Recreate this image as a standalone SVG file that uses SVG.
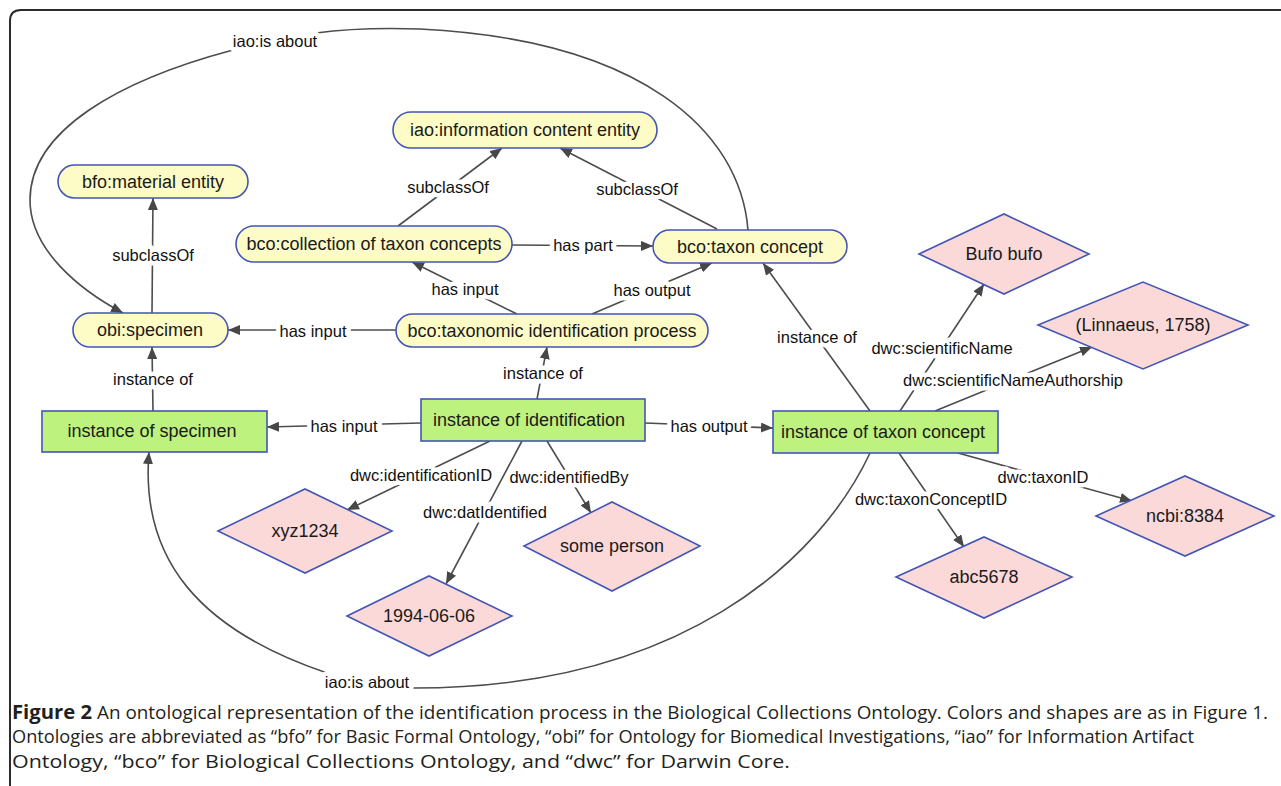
<svg xmlns="http://www.w3.org/2000/svg" width="1281" height="786" viewBox="0 0 1281 786">
<defs>
<marker id="arr" markerUnits="userSpaceOnUse" viewBox="0 0 12 10" refX="12" refY="5" markerWidth="12" markerHeight="10" orient="auto">
<path d="M0,0 L12,5 L0,10 z" fill="#474747"/>
</marker>
<style>
.cls rect{fill:#fdfbc6;stroke:#4356b4;stroke-width:1.6}
.ins rect{fill:#bef27e;stroke:#4356b4;stroke-width:1.6}
.lit polygon{fill:#fbd9d8;stroke:#4356b4;stroke-width:1.6}
.nt{font-family:"Liberation Sans",Arial,sans-serif;font-size:18px;fill:#1a1a1a;text-anchor:middle;dominant-baseline:central}
.e{fill:none;stroke:#4d4d4d;stroke-width:1.6}
.ea{fill:none;stroke:#4d4d4d;stroke-width:1.6;marker-end:url(#arr)}
.lb{font-family:"Liberation Sans",Arial,sans-serif;font-size:16.5px;fill:#111;text-anchor:middle;dominant-baseline:central;stroke:#fff;stroke-width:9px;paint-order:stroke;stroke-linejoin:round}
.cap{font-family:"Open Sans","Liberation Sans",sans-serif;font-size:19px;fill:#231f20}
</style>
</defs>
<rect width="1281" height="786" fill="#fff"/>
<path d="M10 786 L10 21 Q10 10 21 10 L1281 10" fill="none" stroke="#2b2b2b" stroke-width="2"/>

<g id="connectors">
<line class="ea" x1="398" y1="226" x2="502" y2="148"/>
<line class="ea" x1="717" y1="229" x2="560" y2="148"/>
<line class="ea" x1="512" y1="245" x2="653" y2="246"/>
<line class="ea" x1="517" y1="314" x2="412" y2="262"/>
<line class="ea" x1="592" y1="314" x2="712" y2="263"/>
<line class="ea" x1="396" y1="330" x2="228" y2="330"/>
<line class="ea" x1="152" y1="313" x2="153" y2="198"/>
<line class="ea" x1="153" y1="411" x2="152" y2="347"/>
<line class="ea" x1="537" y1="399" x2="547" y2="347"/>
<line class="ea" x1="421" y1="423" x2="267" y2="427"/>
<line class="ea" x1="645" y1="423" x2="773" y2="428"/>
<line class="ea" x1="870" y1="411" x2="763" y2="263"/>
<line class="ea" x1="900" y1="411" x2="984" y2="284"/>
<line class="ea" x1="935" y1="411" x2="1092" y2="347"/>
<line class="ea" x1="958" y1="453" x2="1132" y2="501"/>
<line class="ea" x1="899" y1="453" x2="964" y2="547"/>
<line class="ea" x1="490" y1="441" x2="347" y2="510"/>
<line class="ea" x1="522" y1="441" x2="446" y2="584"/>
<line class="ea" x1="547" y1="441" x2="591" y2="513"/>
<path class="e" d="M748 230 C740 130 640 40 420 29 Q360 27 316 33"/>
<path class="ea" d="M233 50 C120 80 30 130 30 200 C30 250 80 290 123 313"/>
<path class="e" d="M870 453 C820 560 680 690 408 688"/>
<path class="ea" d="M327 673 C200 630 140 560 149 452"/>

<text class="lb" x="448" y="187">subclassOf</text>
<text class="lb" x="637" y="189">subclassOf</text>
<text class="lb" x="583" y="245">has part</text>
<text class="lb" x="465" y="289">has input</text>
<text class="lb" x="652" y="290">has output</text>
<text class="lb" x="313" y="331">has input</text>
<text class="lb" x="153" y="255">subclassOf</text>
<text class="lb" x="153" y="379">instance of</text>
<text class="lb" x="543" y="373">instance of</text>
<text class="lb" x="344" y="426">has input</text>
<text class="lb" x="709" y="426">has output</text>
<text class="lb" x="817" y="337">instance of</text>
<text class="lb" x="942" y="348">dwc:scientificName</text>
<text class="lb" x="1013" y="380">dwc:scientificNameAuthorship</text>
<text class="lb" x="1043" y="477">dwc:taxonID</text>
<text class="lb" x="931" y="499">dwc:taxonConceptID</text>
<text class="lb" x="421" y="475">dwc:identificationID</text>
<text class="lb" x="485" y="512">dwc:datIdentified</text>
<text class="lb" x="569" y="477">dwc:identifiedBy</text>
<text class="lb" x="275" y="41">iao:is about</text>
<text class="lb" x="367" y="682">iao:is about</text>
</g>

<g id="iao-ice" class="cls"><rect x="393" y="112" width="264" height="36" rx="18"/><text class="nt" x="525" y="130">iao:information content entity</text></g>
<g id="bfo-material" class="cls"><rect x="58" y="165" width="190" height="33" rx="16.5"/><text class="nt" x="153" y="182">bfo:material entity</text></g>
<g id="bco-collection" class="cls"><rect x="236" y="226" width="276" height="36" rx="18"/><text class="nt" x="374" y="244">bco:collection of taxon concepts</text></g>
<g id="bco-taxon" class="cls"><rect x="653" y="230" width="194" height="33" rx="16.5"/><text class="nt" x="750" y="247">bco:taxon concept</text></g>
<g id="obi-specimen" class="cls"><rect x="73" y="313" width="155" height="34" rx="17"/><text class="nt" x="150" y="330">obi:specimen</text></g>
<g id="bco-process" class="cls"><rect x="396" y="314" width="312" height="33" rx="16.5"/><text class="nt" x="552" y="331">bco:taxonomic identification process</text></g>

<g id="inst-specimen" class="ins"><rect x="42" y="411" width="225" height="41"/><text class="nt" x="152" y="431">instance of specimen</text></g>
<g id="inst-identification" class="ins"><rect x="421" y="399" width="224" height="42"/><text class="nt" x="529" y="420">instance of identification</text></g>
<g id="inst-taxon" class="ins"><rect x="773" y="411" width="225" height="42"/><text class="nt" x="883" y="432">instance of taxon concept</text></g>

<g id="bufo" class="lit"><polygon points="919,254 1004,214 1089,254 1004,294"/><text class="nt" x="1004" y="254">Bufo bufo</text></g>
<g id="linnaeus" class="lit"><polygon points="1038,325 1143,282 1248,325 1143,369"/><text class="nt" x="1143" y="325">(Linnaeus, 1758)</text></g>
<g id="xyz" class="lit"><polygon points="218,531 305,489 392,531 305,573"/><text class="nt" x="305" y="531">xyz1234</text></g>
<g id="date" class="lit"><polygon points="347,616 429,576 512,616 429,656"/><text class="nt" x="429" y="616">1994-06-06</text></g>
<g id="person" class="lit"><polygon points="524,546 612,502 700,546 612,591"/><text class="nt" x="612" y="546">some person</text></g>
<g id="abc" class="lit"><polygon points="896,577 984,537 1072,577 984,618"/><text class="nt" x="984" y="577">abc5678</text></g>
<g id="ncbi" class="lit"><polygon points="1096,516 1185,476 1274,516 1185,556"/><text class="nt" x="1185" y="516">ncbi:8384</text></g>

<g id="caption">
<text class="cap" x="12" y="719" font-weight="bold" textLength="80" lengthAdjust="spacingAndGlyphs">Figure 2</text>
<text class="cap" x="97" y="719" textLength="1171" lengthAdjust="spacingAndGlyphs">An ontological representation of the identification process in the Biological Collections Ontology. Colors and shapes are as in Figure 1.</text>
<text class="cap" x="12" y="743" textLength="1182" lengthAdjust="spacingAndGlyphs">Ontologies are abbreviated as “bfo” for Basic Formal Ontology, “obi” for Ontology for Biomedical Investigations, “iao” for Information Artifact</text>
<text class="cap" x="12" y="768" textLength="778" lengthAdjust="spacingAndGlyphs">Ontology, “bco” for Biological Collections Ontology, and “dwc” for Darwin Core.</text>
</g>
</svg>
